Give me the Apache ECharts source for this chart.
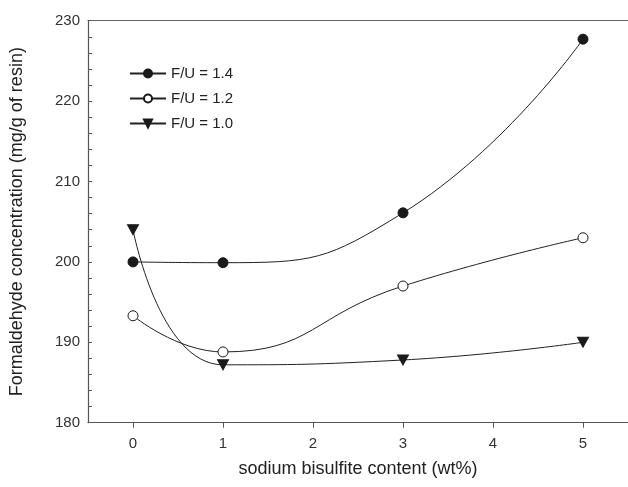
<!DOCTYPE html>
<html>
<head>
<meta charset="utf-8">
<script src="https://cdn.jsdelivr.net/npm/echarts@6/dist/echarts.min.js"></script>
<style>
html,body{margin:0;padding:0;background:#fff;}
#chart{width:628px;height:487px;}
</style>
</head>
<body>
<div id="chart"></div>
<script>
var xValues = [0, 1, 3, 5];
var fu14 = [200.0, 199.9, 206.1, 227.7];
var fu12 = [193.3, 188.8, 197.0, 203.0];
var fu10 = [204.0, 187.2, 187.8, 190.0];
var xTicks = [0, 1, 2, 3, 4, 5];
var seriesNames = ['F/U = 1.4', 'F/U = 1.2', 'F/U = 1.0'];
var xTitle = 'sodium bisulfite content (wt%)';
var yTitle = 'Formaldehyde concentration (mg/g of resin)';

function pairs(vals) { return xValues.map(function (x, i) { return [x, vals[i]]; }); }

var FONT = "'Liberation Sans', Arial, sans-serif";
var lineColor = '#222';

var chart = echarts.init(document.getElementById('chart'), null, {renderer: 'canvas'});
chart.setOption({
  animation: false,
  backgroundColor: '#fff',
  grid: {left: 79, top: 20.7, width: 560, height: 402, containLabel: false},
  legend: {
    orient: 'vertical', left: 124, top: 61, itemWidth: 36, itemHeight: 10, itemGap: 10,
    textStyle: {fontFamily: FONT, fontSize: 15, color: '#222'},
    data: seriesNames
  },
  xAxis: [{
    type: 'value', min: -0.5, max: 5.5,
    position: 'bottom',
    name: xTitle, nameLocation: 'middle', nameGap: 37,
    nameTextStyle: {fontFamily: FONT, fontSize: 18, color: '#222'},
    axisLine: {onZero: false, lineStyle: {color: '#555', width: 1.2}},
    axisTick: {inside: false, length: 5, customValues: xTicks, lineStyle: {color: '#555'}},
    axisLabel: {fontFamily: FONT, fontSize: 15, color: '#333', margin: 14, customValues: xTicks},
    splitLine: {show: false}
  }, {
    type: 'value', min: -0.5, max: 5.5, position: 'top',
    axisLine: {show: true, onZero: false, lineStyle: {color: '#666', width: 1.2}},
    axisTick: {show: false}, axisLabel: {show: false}, splitLine: {show: false}
  }],
  yAxis: {
    type: 'value', min: 180, max: 230, interval: 10,
    name: yTitle, nameLocation: 'middle', nameGap: 62, nameRotate: 90,
    nameTextStyle: {fontFamily: FONT, fontSize: 18, color: '#222'},
    axisLine: {show: true, onZero: false, lineStyle: {color: '#555', width: 1.2}},
    axisTick: {show: true, inside: true, length: 4, lineStyle: {color: '#555'}},
    minorTick: {show: true, splitNumber: 5, length: 4, lineStyle: {color: '#555'}},
    axisLabel: {fontFamily: FONT, fontSize: 15, color: '#333', margin: 8},
    splitLine: {show: false}
  },
  series: [{
    name: seriesNames[0], type: 'line', smooth: 0.5, data: pairs(fu14),
    symbol: 'circle', symbolSize: 10,
    lineStyle: {color: lineColor, width: 1},
    itemStyle: {color: '#1a1a1a', borderColor: '#1a1a1a', borderWidth: 1}
  }, {
    name: seriesNames[1], type: 'line', smooth: 0.5, data: pairs(fu12),
    symbol: 'circle', symbolSize: 10,
    lineStyle: {color: lineColor, width: 1},
    itemStyle: {color: '#fff', borderColor: '#1a1a1a', borderWidth: 1}
  }, {
    name: seriesNames[2], type: 'line', smooth: 0.5, data: pairs(fu10),
    symbol: 'triangle', symbolSize: [11, 10], symbolRotate: 180,
    lineStyle: {color: lineColor, width: 1},
    itemStyle: {color: '#1a1a1a', borderColor: '#1a1a1a', borderWidth: 1}
  }]
});
</script>
</body>
</html>
